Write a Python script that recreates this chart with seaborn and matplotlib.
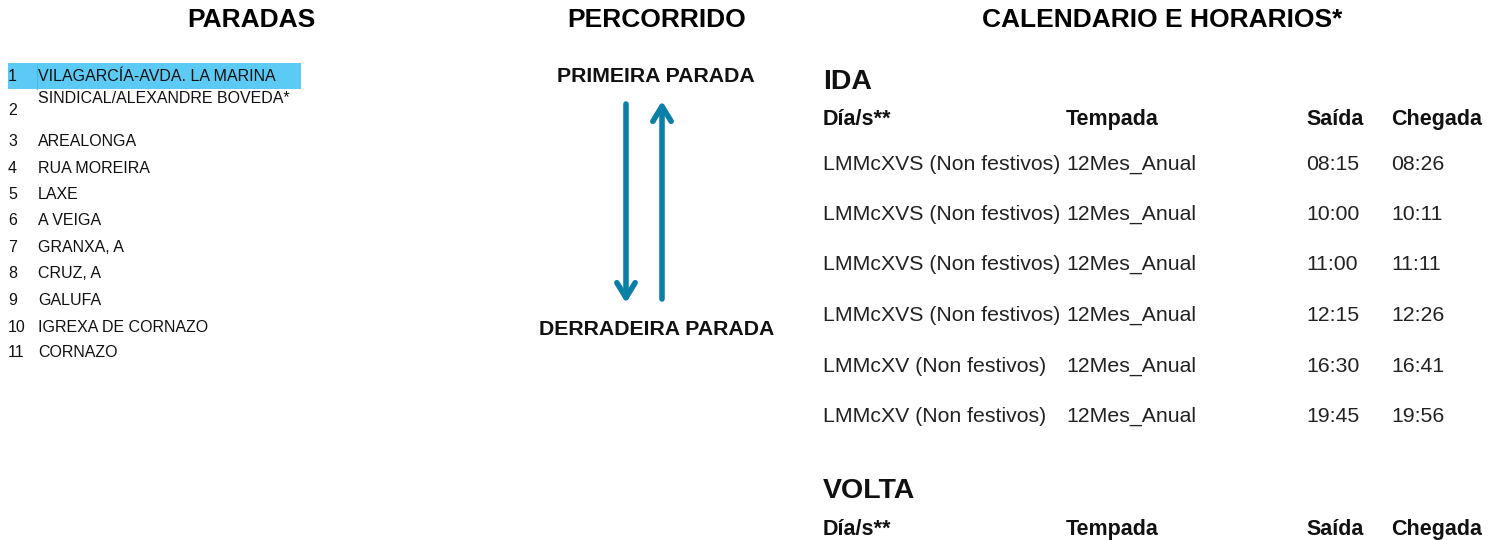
import matplotlib
matplotlib.use("Agg")
import matplotlib.pyplot as plt
import seaborn as sns
from matplotlib.patches import Rectangle

sns.set_theme(style="white")
plt.rcParams['font.family'] = ['Liberation Sans', 'DejaVu Sans']

# ---- data ----
section_titles = ["PARADAS", "PERCORRIDO", "CALENDARIO E HORARIOS*"]
stop_numbers = [1, 2, 3, 4, 5, 6, 7, 8, 9, 10, 11]
stop_names = ["VILAGARCÍA-AVDA. LA MARINA", "SINDICAL/ALEXANDRE BOVEDA*", "AREALONGA",
              "RUA MOREIRA", "LAXE", "A VEIGA", "GRANXA, A", "CRUZ, A", "GALUFA",
              "IGREXA DE CORNAZO", "CORNAZO"]
route_labels = ["PRIMEIRA PARADA", "DERRADEIRA PARADA"]
table_headers = ["Día/s**", "Tempada", "Saída", "Chegada"]
ida_days = ["LMMcXVS (Non festivos)"] * 4 + ["LMMcXV (Non festivos)"] * 2
ida_tempada = ["12Mes_Anual"] * 6
ida_saida = ["08:15", "10:00", "11:00", "12:15", "16:30", "19:45"]
ida_chegada = ["08:26", "10:11", "11:11", "12:26", "16:41", "19:56"]

fig = plt.figure(figsize=(14.98, 5.4), dpi=100)
ax = fig.add_axes([0, 0, 1, 1])
ax.set_xlim(0, 1498)
ax.set_ylim(540, 0)
ax.axis("off")


def put(x, yc, s, size, **kw):
    """place text so that capital letters are vertically centred on yc (pixels)"""
    cap = 0.716 * size * 100 / 72
    return ax.text(x, yc + cap / 2, s, va="baseline", fontsize=size, **kw)


# section titles
for x, t in zip([251, 657, 1162], section_titles):
    put(x, 18, t, 19, ha="center", fontweight="bold", color="black")

# stops list
stop_y = [76, 110, 141, 168, 194, 220, 247, 273, 300, 327, 352]
ax.add_patch(Rectangle((8, 63), 293, 26, facecolor="#5BCBF5", edgecolor="none"))
ax.plot([37, 37], [63, 89], color="#4DB8E8", lw=0.8)
for i, (n, name, y) in enumerate(zip(stop_numbers, stop_names, stop_y)):
    nm_y = y - 12 if i == 1 else y
    put(8, y - 1, str(n), 11.5, ha="left", color="#111111")
    put(38, nm_y - 1, name, 11.5, ha="left", color="#111111")

# route
put(656, 74, route_labels[0], 15.3, ha="center", fontweight="bold", color="#111111")
t2 = put(657, 327, route_labels[1], 15.3, ha="center", fontweight="bold", color="#111111")
clip = Rectangle((542, 300), 300, 60, transform=ax.transData)
t2.set_clip_path(clip)
arrow_col = "#0A7FA8"
ax.annotate("", xy=(626, 303), xytext=(626, 104),
            arrowprops=dict(arrowstyle="->,head_length=0.9,head_width=0.55", color=arrow_col, lw=4,
                            shrinkA=0, shrinkB=0))
ax.annotate("", xy=(662, 101), xytext=(662, 299),
            arrowprops=dict(arrowstyle="->,head_length=0.9,head_width=0.55", color=arrow_col, lw=4,
                            shrinkA=0, shrinkB=0))

# timetable
col_x = [823, 1066, 1306, 1391]
put(823, 79, "IDA", 20.5, ha="left", fontweight="bold", color="#111111")
for x, h in zip(col_x, table_headers):
    put(x, 117, h, 15.5, ha="left", fontweight="bold", color="#111111")
row_y = [162, 212, 262, 313, 364, 414]
for y, d, tp, s, c in zip(row_y, ida_days, ida_tempada, ida_saida, ida_chegada):
    for x, v in zip(col_x, [d, tp, s, c]):
        put(x, y, v, 15.3, ha="left", color="#222222")

put(823, 488, "VOLTA", 20.5, ha="left", fontweight="bold", color="#111111")
for x, h in zip(col_x, table_headers):
    put(x, 527, h, 15.5, ha="left", fontweight="bold", color="#111111")

fig.savefig("out.png", dpi=100)
